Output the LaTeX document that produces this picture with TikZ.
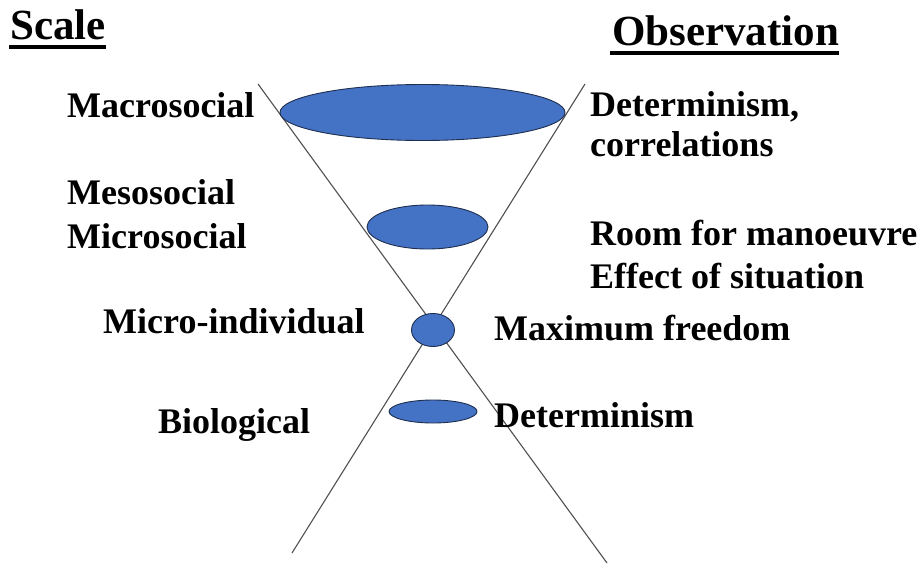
\documentclass[tikz,border=0pt]{standalone}
\usepackage{fontspec}
\setmainfont{Liberation Serif}
\usetikzlibrary{calc}
\definecolor{blobblue}{HTML}{4472C4}
\definecolor{blobedge}{HTML}{1F2F50}
\definecolor{linegray}{HTML}{505050}
\tikzset{
  lbl/.style={anchor=base west, inner sep=0pt, font=\fontsize{36}{40}\selectfont\bfseries},
  head/.style={anchor=base west, inner sep=0pt, font=\fontsize{43}{48}\selectfont\bfseries},
  uline/.style={line width=4pt},
  cone/.style={draw=linegray, line width=1.1pt},
  blob/.style={fill=blobblue, draw=blobedge, line width=0.9pt}
}
\begin{document}
\begin{tikzpicture}[x=1pt, y=-1pt]
\useasboundingbox (0,0) rectangle (922,563);
% headings
\node[head] (scale) at (10,39) {Scale};
\node[head] (obs) at (612,45) {Observation};
\draw[uline] ($(scale.base west)+(-1,8)$) -- ($(scale.base east)+(0,8)$);
\draw[uline] ($(obs.base west)+(-2,7.5)$) -- ($(obs.base east)+(0,7.5)$);
% cone lines
\coordinate (a1) at (258,84);
\coordinate (a2) at (607,563);
\coordinate (b1) at (585,84);
\coordinate (b2) at (292,553);
\draw[cone] (a1) -- (a2);
\draw[cone] (b1) -- (b2);
% ellipses
\path[blob] (422.5,112.5) ellipse [x radius=142.5, y radius=28];
\path[blob] (427.5,227) ellipse [x radius=60.5, y radius=22];
\path[blob] (433,330) ellipse [x radius=21.5, y radius=16.5];
\path[blob] (433,411.5) ellipse [x radius=44, y radius=11.5];
% left labels
\node[lbl] (macro) at (67,117) {Macrosocial};
\node[lbl] (meso) at (67,204) {Mesosocial};
\node[lbl] (micro) at (67,248) {Microsocial};
\node[lbl] (mind) at (103,333) {Micro-individual};
\node[lbl] (bio) at (158,433) {Biological};
% right labels
\node[lbl] (det1) at (590,116) {Determinism,};
\node[lbl] (corr) at (590,156) {correlations};
\node[lbl] (room) at (590,245) {Room for manoeuvre};
\node[lbl] (eff) at (590,288) {Effect of situation};
\node[lbl] (maxf) at (494,340) {Maximum freedom};
\node[lbl] (det2) at (494,427) {Determinism};
\end{tikzpicture}
\end{document}
